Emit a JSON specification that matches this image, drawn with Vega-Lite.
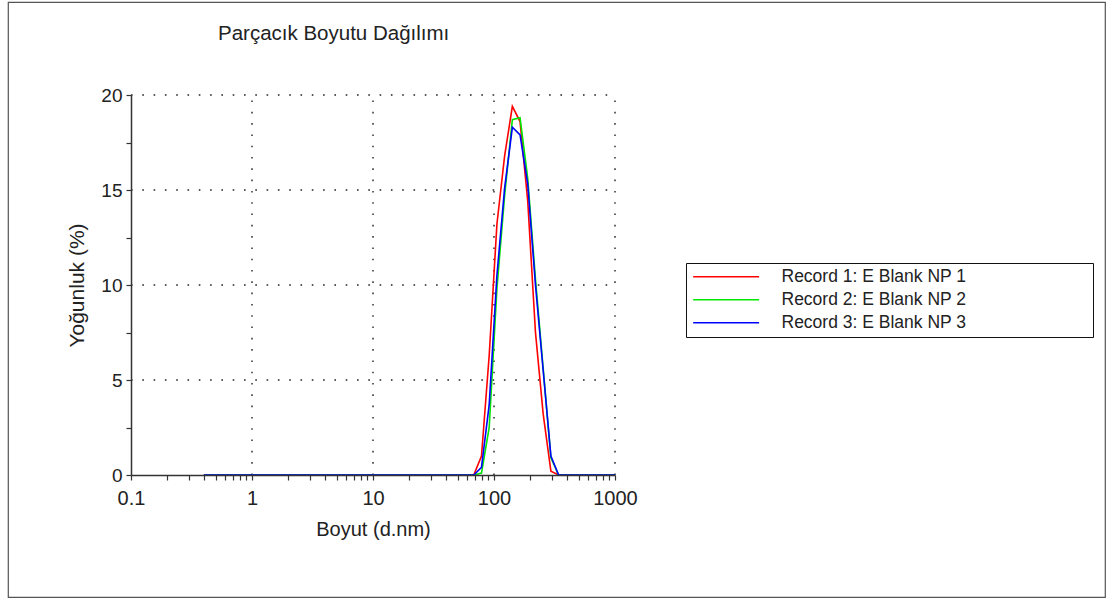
{
  "$schema": "https://vega.github.io/schema/vega-lite/v6.json",
  "width": 1097,
  "height": 595,
  "autosize": {"type": "none"},
  "padding": {"left": 8, "top": 2, "right": 8, "bottom": 5},
  "background": "white",
  "config": {
    "view": {"stroke": "#555", "strokeWidth": 1.2},
    "font": "Liberation Sans"
  },
  "title": {
    "text": "Parçacık Boyutu Dağılımı",
    "anchor": "start",
    "frame": "group",
    "dx": 210,
    "dy": 62,
    "offset": 0,
    "baseline": "bottom",
    "fontSize": 20.5,
    "fontWeight": "normal",
    "color": "#222",
    "font": "Liberation Sans"
  },
  "layer": [
    {
      "data": {"values": [{"gx": 1}, {"gx": 10}, {"gx": 100}, {"gx": 1000}]},
      "mark": {"type": "rule", "strokeDash": [1.6, 9.7], "color": "#222", "strokeWidth": 1.4},
      "encoding": {
        "x": {"field": "gx", "type": "quantitative", "scale": {"type": "log", "domain": [0.1, 1000], "range": [123, 607], "clamp": true}},
        "y": {"datum": 0, "type": "quantitative", "scale": {"domain": [0, 20], "range": [473, 93], "nice": false, "zero": false}},
        "y2": {"datum": 20}
      }
    },
    {
      "data": {"values": [{"gy": 5}, {"gy": 10}, {"gy": 15}, {"gy": 20}]},
      "mark": {"type": "rule", "strokeDash": [1.6, 9.7], "color": "#222", "strokeWidth": 1.4},
      "encoding": {
        "y": {"field": "gy", "type": "quantitative", "scale": {"domain": [0, 20], "range": [473, 93], "nice": false, "zero": false}},
        "x": {"datum": 0.1, "type": "quantitative", "scale": {"type": "log", "domain": [0.1, 1000], "range": [123, 607], "clamp": true}},
        "x2": {"datum": 1000}
      }
    },
    {
      "data": {"values": [
        {"record": "Record 1: E Blank NP 1", "size": 0.4, "intensity": 0},
        {"record": "Record 1: E Blank NP 1", "size": 0.4632, "intensity": 0},
        {"record": "Record 1: E Blank NP 1", "size": 0.5365, "intensity": 0},
        {"record": "Record 1: E Blank NP 1", "size": 0.6213, "intensity": 0},
        {"record": "Record 1: E Blank NP 1", "size": 0.7195, "intensity": 0},
        {"record": "Record 1: E Blank NP 1", "size": 0.8332, "intensity": 0},
        {"record": "Record 1: E Blank NP 1", "size": 0.9649, "intensity": 0},
        {"record": "Record 1: E Blank NP 1", "size": 1.117, "intensity": 0},
        {"record": "Record 1: E Blank NP 1", "size": 1.294, "intensity": 0},
        {"record": "Record 1: E Blank NP 1", "size": 1.499, "intensity": 0},
        {"record": "Record 1: E Blank NP 1", "size": 1.736, "intensity": 0},
        {"record": "Record 1: E Blank NP 1", "size": 2.01, "intensity": 0},
        {"record": "Record 1: E Blank NP 1", "size": 2.328, "intensity": 0},
        {"record": "Record 1: E Blank NP 1", "size": 2.696, "intensity": 0},
        {"record": "Record 1: E Blank NP 1", "size": 3.122, "intensity": 0},
        {"record": "Record 1: E Blank NP 1", "size": 3.615, "intensity": 0},
        {"record": "Record 1: E Blank NP 1", "size": 4.187, "intensity": 0},
        {"record": "Record 1: E Blank NP 1", "size": 4.849, "intensity": 0},
        {"record": "Record 1: E Blank NP 1", "size": 5.615, "intensity": 0},
        {"record": "Record 1: E Blank NP 1", "size": 6.503, "intensity": 0},
        {"record": "Record 1: E Blank NP 1", "size": 7.531, "intensity": 0},
        {"record": "Record 1: E Blank NP 1", "size": 8.721, "intensity": 0},
        {"record": "Record 1: E Blank NP 1", "size": 10.1, "intensity": 0},
        {"record": "Record 1: E Blank NP 1", "size": 11.7, "intensity": 0},
        {"record": "Record 1: E Blank NP 1", "size": 13.54, "intensity": 0},
        {"record": "Record 1: E Blank NP 1", "size": 15.69, "intensity": 0},
        {"record": "Record 1: E Blank NP 1", "size": 18.17, "intensity": 0},
        {"record": "Record 1: E Blank NP 1", "size": 21.04, "intensity": 0},
        {"record": "Record 1: E Blank NP 1", "size": 24.36, "intensity": 0},
        {"record": "Record 1: E Blank NP 1", "size": 28.21, "intensity": 0},
        {"record": "Record 1: E Blank NP 1", "size": 32.67, "intensity": 0},
        {"record": "Record 1: E Blank NP 1", "size": 37.84, "intensity": 0},
        {"record": "Record 1: E Blank NP 1", "size": 43.82, "intensity": 0},
        {"record": "Record 1: E Blank NP 1", "size": 50.75, "intensity": 0},
        {"record": "Record 1: E Blank NP 1", "size": 58.77, "intensity": 0},
        {"record": "Record 1: E Blank NP 1", "size": 68.06, "intensity": 0},
        {"record": "Record 1: E Blank NP 1", "size": 78.82, "intensity": 1.0},
        {"record": "Record 1: E Blank NP 1", "size": 91.28, "intensity": 6.3},
        {"record": "Record 1: E Blank NP 1", "size": 105.7, "intensity": 13.2},
        {"record": "Record 1: E Blank NP 1", "size": 122.4, "intensity": 16.8},
        {"record": "Record 1: E Blank NP 1", "size": 141.8, "intensity": 19.4},
        {"record": "Record 1: E Blank NP 1", "size": 164.2, "intensity": 18.6},
        {"record": "Record 1: E Blank NP 1", "size": 190.1, "intensity": 14.4},
        {"record": "Record 1: E Blank NP 1", "size": 220.2, "intensity": 7.5},
        {"record": "Record 1: E Blank NP 1", "size": 255.0, "intensity": 3.2},
        {"record": "Record 1: E Blank NP 1", "size": 295.3, "intensity": 0.2},
        {"record": "Record 1: E Blank NP 1", "size": 342.0, "intensity": 0},
        {"record": "Record 1: E Blank NP 1", "size": 396.1, "intensity": 0},
        {"record": "Record 1: E Blank NP 1", "size": 458.7, "intensity": 0},
        {"record": "Record 1: E Blank NP 1", "size": 531.2, "intensity": 0},
        {"record": "Record 1: E Blank NP 1", "size": 615.1, "intensity": 0},
        {"record": "Record 1: E Blank NP 1", "size": 712.4, "intensity": 0},
        {"record": "Record 1: E Blank NP 1", "size": 825.0, "intensity": 0},
        {"record": "Record 1: E Blank NP 1", "size": 955.4, "intensity": 0},
        {"record": "Record 1: E Blank NP 1", "size": 1106, "intensity": 0},
        {"record": "Record 2: E Blank NP 2", "size": 0.4, "intensity": 0},
        {"record": "Record 2: E Blank NP 2", "size": 0.4632, "intensity": 0},
        {"record": "Record 2: E Blank NP 2", "size": 0.5365, "intensity": 0},
        {"record": "Record 2: E Blank NP 2", "size": 0.6213, "intensity": 0},
        {"record": "Record 2: E Blank NP 2", "size": 0.7195, "intensity": 0},
        {"record": "Record 2: E Blank NP 2", "size": 0.8332, "intensity": 0},
        {"record": "Record 2: E Blank NP 2", "size": 0.9649, "intensity": 0},
        {"record": "Record 2: E Blank NP 2", "size": 1.117, "intensity": 0},
        {"record": "Record 2: E Blank NP 2", "size": 1.294, "intensity": 0},
        {"record": "Record 2: E Blank NP 2", "size": 1.499, "intensity": 0},
        {"record": "Record 2: E Blank NP 2", "size": 1.736, "intensity": 0},
        {"record": "Record 2: E Blank NP 2", "size": 2.01, "intensity": 0},
        {"record": "Record 2: E Blank NP 2", "size": 2.328, "intensity": 0},
        {"record": "Record 2: E Blank NP 2", "size": 2.696, "intensity": 0},
        {"record": "Record 2: E Blank NP 2", "size": 3.122, "intensity": 0},
        {"record": "Record 2: E Blank NP 2", "size": 3.615, "intensity": 0},
        {"record": "Record 2: E Blank NP 2", "size": 4.187, "intensity": 0},
        {"record": "Record 2: E Blank NP 2", "size": 4.849, "intensity": 0},
        {"record": "Record 2: E Blank NP 2", "size": 5.615, "intensity": 0},
        {"record": "Record 2: E Blank NP 2", "size": 6.503, "intensity": 0},
        {"record": "Record 2: E Blank NP 2", "size": 7.531, "intensity": 0},
        {"record": "Record 2: E Blank NP 2", "size": 8.721, "intensity": 0},
        {"record": "Record 2: E Blank NP 2", "size": 10.1, "intensity": 0},
        {"record": "Record 2: E Blank NP 2", "size": 11.7, "intensity": 0},
        {"record": "Record 2: E Blank NP 2", "size": 13.54, "intensity": 0},
        {"record": "Record 2: E Blank NP 2", "size": 15.69, "intensity": 0},
        {"record": "Record 2: E Blank NP 2", "size": 18.17, "intensity": 0},
        {"record": "Record 2: E Blank NP 2", "size": 21.04, "intensity": 0},
        {"record": "Record 2: E Blank NP 2", "size": 24.36, "intensity": 0},
        {"record": "Record 2: E Blank NP 2", "size": 28.21, "intensity": 0},
        {"record": "Record 2: E Blank NP 2", "size": 32.67, "intensity": 0},
        {"record": "Record 2: E Blank NP 2", "size": 37.84, "intensity": 0},
        {"record": "Record 2: E Blank NP 2", "size": 43.82, "intensity": 0},
        {"record": "Record 2: E Blank NP 2", "size": 50.75, "intensity": 0},
        {"record": "Record 2: E Blank NP 2", "size": 58.77, "intensity": 0},
        {"record": "Record 2: E Blank NP 2", "size": 68.06, "intensity": 0},
        {"record": "Record 2: E Blank NP 2", "size": 78.82, "intensity": 0.1},
        {"record": "Record 2: E Blank NP 2", "size": 91.28, "intensity": 2.5},
        {"record": "Record 2: E Blank NP 2", "size": 105.7, "intensity": 9.8},
        {"record": "Record 2: E Blank NP 2", "size": 122.4, "intensity": 14.7},
        {"record": "Record 2: E Blank NP 2", "size": 141.8, "intensity": 18.7},
        {"record": "Record 2: E Blank NP 2", "size": 164.2, "intensity": 18.8},
        {"record": "Record 2: E Blank NP 2", "size": 190.1, "intensity": 15.6},
        {"record": "Record 2: E Blank NP 2", "size": 220.2, "intensity": 10.3},
        {"record": "Record 2: E Blank NP 2", "size": 255.0, "intensity": 5.6},
        {"record": "Record 2: E Blank NP 2", "size": 295.3, "intensity": 0.9},
        {"record": "Record 2: E Blank NP 2", "size": 342.0, "intensity": 0},
        {"record": "Record 2: E Blank NP 2", "size": 396.1, "intensity": 0},
        {"record": "Record 2: E Blank NP 2", "size": 458.7, "intensity": 0},
        {"record": "Record 2: E Blank NP 2", "size": 531.2, "intensity": 0},
        {"record": "Record 2: E Blank NP 2", "size": 615.1, "intensity": 0},
        {"record": "Record 2: E Blank NP 2", "size": 712.4, "intensity": 0},
        {"record": "Record 2: E Blank NP 2", "size": 825.0, "intensity": 0},
        {"record": "Record 2: E Blank NP 2", "size": 955.4, "intensity": 0},
        {"record": "Record 2: E Blank NP 2", "size": 1106, "intensity": 0},
        {"record": "Record 3: E Blank NP 3", "size": 0.4, "intensity": 0},
        {"record": "Record 3: E Blank NP 3", "size": 0.4632, "intensity": 0},
        {"record": "Record 3: E Blank NP 3", "size": 0.5365, "intensity": 0},
        {"record": "Record 3: E Blank NP 3", "size": 0.6213, "intensity": 0},
        {"record": "Record 3: E Blank NP 3", "size": 0.7195, "intensity": 0},
        {"record": "Record 3: E Blank NP 3", "size": 0.8332, "intensity": 0},
        {"record": "Record 3: E Blank NP 3", "size": 0.9649, "intensity": 0},
        {"record": "Record 3: E Blank NP 3", "size": 1.117, "intensity": 0},
        {"record": "Record 3: E Blank NP 3", "size": 1.294, "intensity": 0},
        {"record": "Record 3: E Blank NP 3", "size": 1.499, "intensity": 0},
        {"record": "Record 3: E Blank NP 3", "size": 1.736, "intensity": 0},
        {"record": "Record 3: E Blank NP 3", "size": 2.01, "intensity": 0},
        {"record": "Record 3: E Blank NP 3", "size": 2.328, "intensity": 0},
        {"record": "Record 3: E Blank NP 3", "size": 2.696, "intensity": 0},
        {"record": "Record 3: E Blank NP 3", "size": 3.122, "intensity": 0},
        {"record": "Record 3: E Blank NP 3", "size": 3.615, "intensity": 0},
        {"record": "Record 3: E Blank NP 3", "size": 4.187, "intensity": 0},
        {"record": "Record 3: E Blank NP 3", "size": 4.849, "intensity": 0},
        {"record": "Record 3: E Blank NP 3", "size": 5.615, "intensity": 0},
        {"record": "Record 3: E Blank NP 3", "size": 6.503, "intensity": 0},
        {"record": "Record 3: E Blank NP 3", "size": 7.531, "intensity": 0},
        {"record": "Record 3: E Blank NP 3", "size": 8.721, "intensity": 0},
        {"record": "Record 3: E Blank NP 3", "size": 10.1, "intensity": 0},
        {"record": "Record 3: E Blank NP 3", "size": 11.7, "intensity": 0},
        {"record": "Record 3: E Blank NP 3", "size": 13.54, "intensity": 0},
        {"record": "Record 3: E Blank NP 3", "size": 15.69, "intensity": 0},
        {"record": "Record 3: E Blank NP 3", "size": 18.17, "intensity": 0},
        {"record": "Record 3: E Blank NP 3", "size": 21.04, "intensity": 0},
        {"record": "Record 3: E Blank NP 3", "size": 24.36, "intensity": 0},
        {"record": "Record 3: E Blank NP 3", "size": 28.21, "intensity": 0},
        {"record": "Record 3: E Blank NP 3", "size": 32.67, "intensity": 0},
        {"record": "Record 3: E Blank NP 3", "size": 37.84, "intensity": 0},
        {"record": "Record 3: E Blank NP 3", "size": 43.82, "intensity": 0},
        {"record": "Record 3: E Blank NP 3", "size": 50.75, "intensity": 0},
        {"record": "Record 3: E Blank NP 3", "size": 58.77, "intensity": 0},
        {"record": "Record 3: E Blank NP 3", "size": 68.06, "intensity": 0},
        {"record": "Record 3: E Blank NP 3", "size": 78.82, "intensity": 0.4},
        {"record": "Record 3: E Blank NP 3", "size": 91.28, "intensity": 3.7},
        {"record": "Record 3: E Blank NP 3", "size": 105.7, "intensity": 10.5},
        {"record": "Record 3: E Blank NP 3", "size": 122.4, "intensity": 15.1},
        {"record": "Record 3: E Blank NP 3", "size": 141.8, "intensity": 18.3},
        {"record": "Record 3: E Blank NP 3", "size": 164.2, "intensity": 17.9},
        {"record": "Record 3: E Blank NP 3", "size": 190.1, "intensity": 15.3},
        {"record": "Record 3: E Blank NP 3", "size": 220.2, "intensity": 10.0},
        {"record": "Record 3: E Blank NP 3", "size": 255.0, "intensity": 5.5},
        {"record": "Record 3: E Blank NP 3", "size": 295.3, "intensity": 1.0},
        {"record": "Record 3: E Blank NP 3", "size": 342.0, "intensity": 0},
        {"record": "Record 3: E Blank NP 3", "size": 396.1, "intensity": 0},
        {"record": "Record 3: E Blank NP 3", "size": 458.7, "intensity": 0},
        {"record": "Record 3: E Blank NP 3", "size": 531.2, "intensity": 0},
        {"record": "Record 3: E Blank NP 3", "size": 615.1, "intensity": 0},
        {"record": "Record 3: E Blank NP 3", "size": 712.4, "intensity": 0},
        {"record": "Record 3: E Blank NP 3", "size": 825.0, "intensity": 0},
        {"record": "Record 3: E Blank NP 3", "size": 955.4, "intensity": 0},
        {"record": "Record 3: E Blank NP 3", "size": 1106, "intensity": 0}
      ]},
      "mark": {"type": "line", "strokeWidth": 1.6},
      "encoding": {
        "x": {
          "field": "size",
          "type": "quantitative",
          "scale": {"type": "log", "domain": [0.1, 1000], "range": [123, 607], "clamp": true},
          "axis": {
            "orient": "bottom",
            "offset": -122,
            "zindex": 1,
            "values": [0.1, 0.2, 0.3, 0.4, 0.5, 0.6, 0.7, 0.8, 0.9, 1, 2, 3, 4, 5, 6, 7, 8, 9, 10, 20, 30, 40, 50, 60, 70, 80, 90, 100, 200, 300, 400, 500, 600, 700, 800, 900, 1000],
            "format": "~g",
            "labelExpr": "indexof([0.1, 1, 10, 100, 1000], datum.value) >= 0 ? datum.label : ''",
            "grid": false,
            "tickSize": 5,
            "tickColor": "#333",
            "tickWidth": 1.2,
            "domainColor": "#333",
            "domainWidth": 1.5,
            "labelFontSize": 20,
            "labelColor": "#222",
            "labelPadding": 8,
            "labelFlush": false,
            "labelOverlap": false,
            "labelFont": "Liberation Sans",
            "title": "Boyut (d.nm)",
            "titleFont": "Liberation Sans",
            "titleFontSize": 20,
            "titleFontWeight": "normal",
            "titleColor": "#222",
            "titlePadding": 11
          }
        },
        "y": {
          "field": "intensity",
          "type": "quantitative",
          "scale": {"domain": [0, 20], "range": [473, 93], "nice": false, "zero": false},
          "axis": {
            "orient": "left",
            "offset": -123,
            "zindex": 1,
            "values": [0, 2.5, 5, 7.5, 10, 12.5, 15, 17.5, 20],
            "labelExpr": "datum.value % 5 === 0 ? datum.label : ''",
            "grid": false,
            "tickSize": 5,
            "tickColor": "#333",
            "tickWidth": 1.2,
            "domainColor": "#333",
            "domainWidth": 1.5,
            "labelFontSize": 19,
            "labelColor": "#222",
            "labelPadding": 4,
            "labelFont": "Liberation Sans",
            "title": "Yoğunluk (%)",
            "titleFont": "Liberation Sans",
            "titleFontSize": 21,
            "titleFontWeight": "normal",
            "titleColor": "#222",
            "titlePadding": 13
          }
        },
        "color": {
          "field": "record",
          "type": "nominal",
          "scale": {"domain": ["Record 1: E Blank NP 1", "Record 2: E Blank NP 2", "Record 3: E Blank NP 3"], "range": ["#ff0000", "#00e600", "#0000ff"]},
          "legend": {
            "orient": "none",
            "legendX": 678,
            "legendY": 261,
            "title": null,
            "strokeColor": "#111",
            "fillColor": "white",
            "padding": 5,
            "symbolType": "M-1,0H9",
            "symbolSize": 174,
            "symbolStrokeWidth": 1.5,
            "labelFont": "Liberation Sans",
            "labelFontSize": 17.5,
            "labelColor": "#222",
            "labelOffset": 73,
            "labelLimit": 0,
            "rowPadding": 4,
            "labelExpr": "datum.label + '\u00a0\u00a0\u00a0\u00a0\u00a0\u00a0\u00a0\u00a0\u00a0\u00a0\u00a0\u00a0\u00a0\u00a0\u00a0\u00a0\u00a0\u00a0\u00a0\u00a0\u00a0\u00a0\u00a0\u00a0\u00a0\u200b'"
          }
        }
      }
    }
  ]
}
